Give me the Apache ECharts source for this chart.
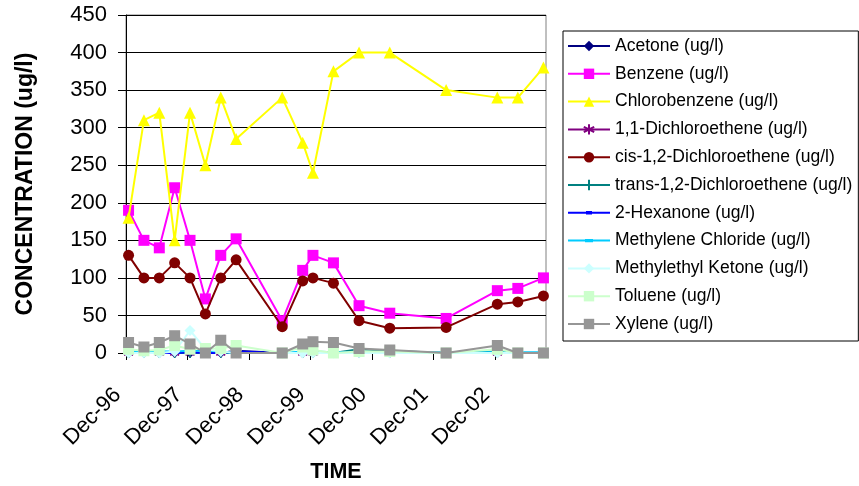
<!DOCTYPE html>
<html>
<head>
<meta charset="utf-8">
<script src="https://cdn.jsdelivr.net/npm/echarts@6/dist/echarts.min.js"></script>
<style>
  html, body { margin: 0; padding: 0; background: #ffffff; }
  #chart { width: 859px; height: 486px; }
</style>
</head>
<body>
<div id="chart"></div>
<script>
// Sampling dates (year-month)
const sampleDates = ['1996-12','1997-03','1997-06','1997-09','1997-12','1998-03','1998-06','1998-09',
  '1999-06','1999-10','1999-12','2000-04','2000-09','2001-03','2002-02','2002-12','2003-04','2003-09'];

// Year tick labels, one every 12 months starting Dec-96
const tickLabels = ['Dec-96','Dec-97','Dec-98','Dec-99','Dec-00','Dec-01','Dec-02'];

// Concentrations (ug/l), one value per sampling date; null = not reported
const acetone      = [0,0,0,0,0,0,0,3,0,0,0,0,0,0,0,0,0,0];
const benzene      = [190,150,140,220,150,72,130,152,43,110,130,120,63,53,46,83,86,100];
const chlorobenzene= [180,310,320,150,320,250,340,285,340,280,240,375,400,400,350,340,340,380];
const dce11        = [0,0,0,0,0,0,0,0,null,0,0,null,0,0,null,0,null,null];
const cisDce       = [130,100,100,120,100,52,100,124,35,96,100,93,43,33,34,65,68,76];
const transDce     = [0,0,0,0,0,0,0,0,0,0,0,0,5,3,0,2,0,0];
const hexanone     = [0,0,0,0,1,0,0,2,0,0,0,0,0,0,0,0,0,0];
const methyleneCl  = [2,2,2,2,3,3,2,0,0,2,2,1,1,1,1,1,1,1];
const mek          = [0,0,0,2,30,5,2,0,0,0,0,0,0,0,0,0,0,0];
const toluene      = [5,3,4,10,5,6,6,10,0,8,4,0,2,2,0,5,0,0];
const xylene       = [14,8,14,23,12,0,17,0,0,12,15,14,6,4,0,10,0,0];

// Month offset from Dec-96; points sit in the middle of their month slot
function monthPos(s) {
  const [y, m] = s.split('-').map(Number);
  return (y - 1996) * 12 + (m - 12) + 0.5;
}
const xs = sampleDates.map(monthPos);
function pairs(vals) { return vals.map((v, i) => [xs[i], v]); }

const asterisk = 'path://M5,0L5,10M0,2.5L10,7.5M0,7.5L10,2.5';
const plus = 'path://M5,0L5,10M0,5L10,5';
const dash = 'path://M0,0L10,0L10,3.5L0,3.5Z';
// legend key for dash markers: 2px line across a 42x13 box with a short dash in the middle
function dashKey(w) {
  const a = 21 - w / 2, b = 21 + w / 2;
  return 'path://M0,0M42,13M0,5.5L' + a + ',5.5L' + a + ',4.8L' + b + ',4.8L' + b + ',5.5L42,5.5L42,7.5L' +
    b + ',7.5L' + b + ',8.2L' + a + ',8.2L' + a + ',7.5L0,7.5Z';
}

const seriesDefs = [
  { name: 'Acetone (ug/l)', data: acetone, color: '#000080', symbol: 'diamond', size: 10 },
  { name: 'Benzene (ug/l)', data: benzene, color: '#FF00FF', symbol: 'rect', size: 11 },
  { name: 'Chlorobenzene (ug/l)', data: chlorobenzene, color: '#FFFF00', symbol: 'triangle', size: 12 },
  { name: '1,1-Dichloroethene (ug/l)', data: dce11, color: '#800080', symbol: asterisk, size: 9, stroke: true },
  { name: 'cis-1,2-Dichloroethene (ug/l)', data: cisDce, color: '#800000', symbol: 'circle', size: 11 },
  { name: 'trans-1,2-Dichloroethene (ug/l)', data: transDce, color: '#008080', symbol: plus, size: 10, stroke: true },
  { name: '2-Hexanone (ug/l)', data: hexanone, color: '#0000FF', symbol: dash, size: 7, key: dashKey(6) },
  { name: 'Methylene Chloride (ug/l)', data: methyleneCl, color: '#00CCFF', symbol: dash, size: 8, key: dashKey(8) },
  { name: 'Methylethyl Ketone (ug/l)', data: mek, color: '#CCFFFF', symbol: 'diamond', size: 11 },
  { name: 'Toluene (ug/l)', data: toluene, color: '#CCFFCC', symbol: 'rect', size: 11 },
  { name: 'Xylene (ug/l)', data: xylene, color: '#969696', symbol: 'rect', size: 11 }
];

const series = seriesDefs.map((d, i) => ({
  name: d.name,
  type: 'line',
  data: pairs(d.data),
  connectNulls: false,
  symbol: d.symbol,
  symbolSize: d.size,
  symbolKeepAspect: true,
  showSymbol: true,
  animation: false,
  z: 2 + i,
  lineStyle: { color: d.color, width: 2 },
  itemStyle: d.stroke
    ? { color: 'none', borderColor: d.color, borderWidth: 1.5 }
    : { color: d.color, borderWidth: 0 },
  emphasis: { disabled: true }
}));

const legendData = seriesDefs.map(d => d.key
  ? { name: d.name, icon: d.key, itemStyle: { color: d.color, borderWidth: 0 } }
  : { name: d.name });

const chart = echarts.init(document.getElementById('chart'), null, { renderer: 'canvas' });
chart.setOption({
  backgroundColor: '#ffffff',
  textStyle: { fontFamily: 'Liberation Sans, Arial, sans-serif', color: '#000' },
  animation: false,
  grid: {
    left: 126, top: 15, width: 420, height: 338,
    outerBoundsMode: 'none',
    containLabel: false,
    show: true, borderColor: '#808080', borderWidth: 1, backgroundColor: '#ffffff'
  },
  legend: {
    orient: 'vertical',
    left: 563, top: 31,
    padding: [6, 6, 8, 4],
    itemGap: 9.8,
    itemWidth: 42,
    itemHeight: 13,
    borderColor: '#000', borderWidth: 1,
    backgroundColor: '#ffffff',
    textStyle: { fontSize: 17.5, color: '#000', fontFamily: 'Liberation Sans, Arial, sans-serif' },
    data: legendData,
    selectedMode: false
  },
  xAxis: {
    type: 'value',
    min: 0, max: 82, interval: 12,
    name: 'TIME',
    nameLocation: 'middle',
    nameGap: 108,
    nameTextStyle: { fontSize: 21.5, fontWeight: 'bold', color: '#000' },
    axisLine: { show: true, onZero: false, lineStyle: { color: '#000', width: 1 } },
    axisTick: { show: true, length: 7, lineStyle: { color: '#000' }, customValues: [0,12,24,36,48,60,72] },
    axisLabel: {
      fontSize: 22, color: '#000', rotate: 45, margin: 30,
      padding: [0, 12, 0, 0],
      customValues: [0,12,24,36,48,60,72],
      formatter: v => tickLabels[Math.round(v / 12)] || ''
    },
    splitLine: { show: false }
  },
  yAxis: {
    type: 'value',
    min: 0, max: 450, interval: 50,
    name: 'CONCENTRATION (ug/l)',
    nameLocation: 'middle',
    nameRotate: 90,
    nameGap: 89,
    nameTextStyle: { fontSize: 23, fontWeight: 'bold', color: '#000' },
    axisLine: { show: true, lineStyle: { color: '#000', width: 1 } },
    axisTick: { show: true, length: 8, lineStyle: { color: '#000' } },
    axisLabel: { fontSize: 22, color: '#000', margin: 19, padding: [4, 0, 0, 0] },
    splitLine: { show: true, lineStyle: { color: '#000', width: 1 } }
  },
  series: series
});
</script>
</body>
</html>
